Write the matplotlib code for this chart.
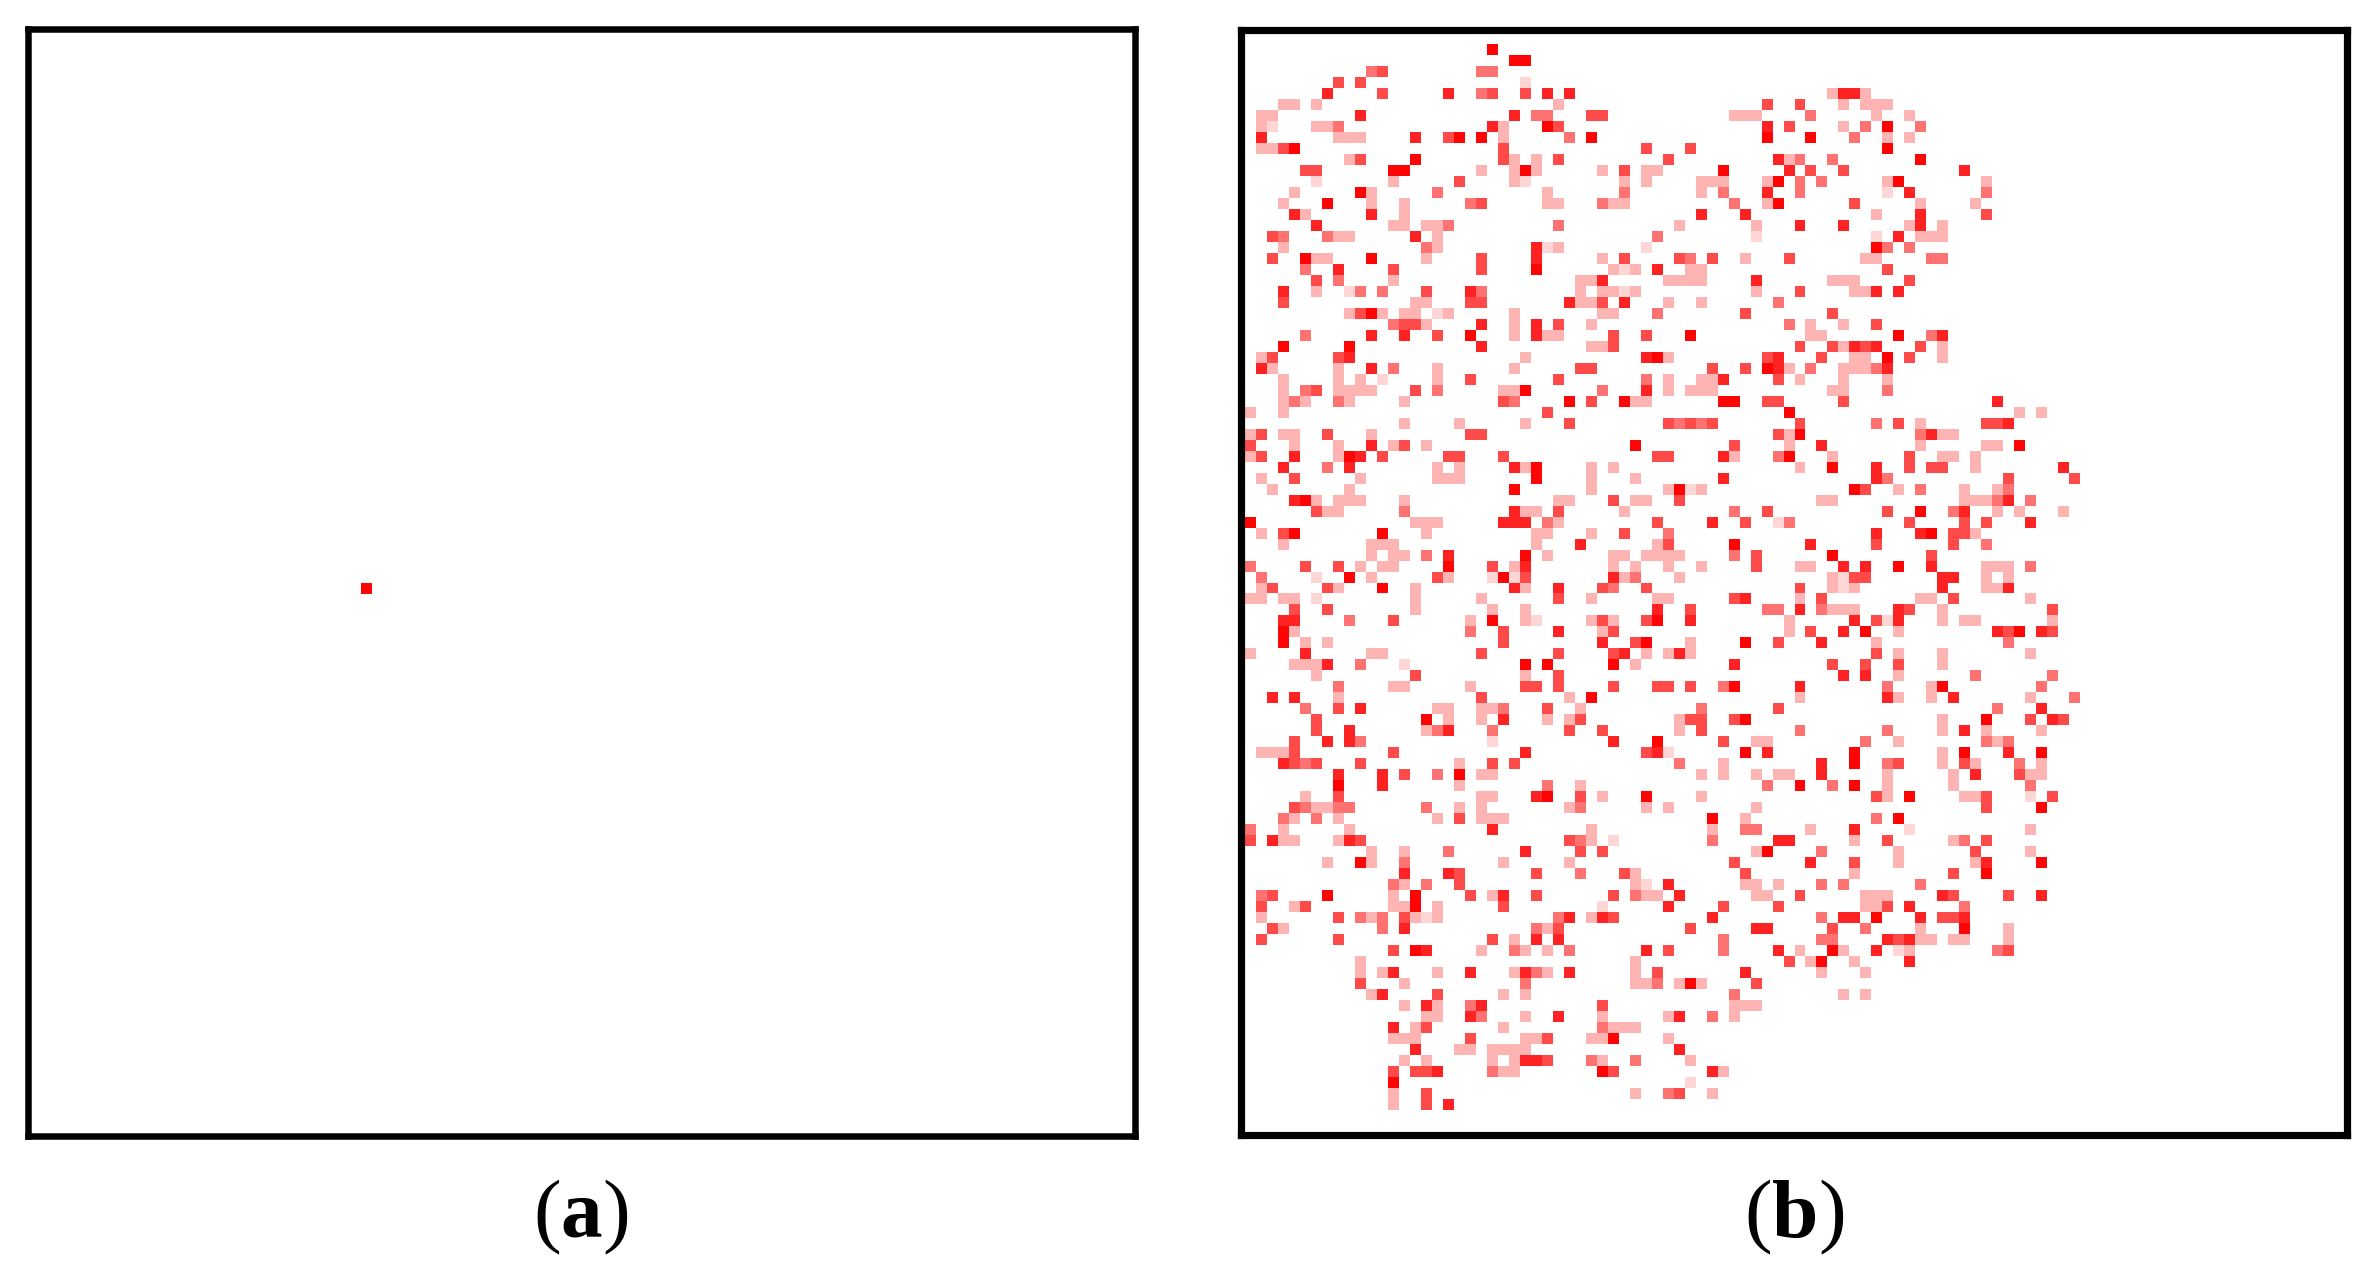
import matplotlib
matplotlib.use('Agg')
import matplotlib.pyplot as plt
from matplotlib.colors import ListedColormap
import numpy as np

# 100 x 100 grid, {row: [(col, level), ...]}, level 1 = palest, 6 = full red
GRID = 100
level_colors = ['#FFFFFF', '#FFD6D6', '#FFB4B4', '#FF7272', '#FF4A4A', '#FF2222', '#FF0404']

cells_a = {50: [(30, 6)]}

cells_top = {
    1: [(22,6)],
    2: [(24,6),(25,6)],
    3: [(11,3),(12,4),(21,3),(22,3)],
    4: [(8,4),(10,4),(25,1)],
    5: [(7,5),(12,4),(18,5),(21,3),(22,4),(25,4),(27,5),(29,5),(53,2),(54,5),(55,5),(56,2)],
    6: [(3,2),(4,2),(6,2),(28,2),(47,4),(50,4),(54,2),(56,2),(57,2),(58,2)],
    7: [(1,2),(2,2),(10,5),(24,5),(26,3),(27,3),(31,4),(32,4),(44,2),(45,2),(46,2),(51,3),(57,2),(60,2)],
    8: [(1,2),(2,1),(6,2),(7,2),(8,3),(22,5),(23,2),(27,6),(28,4),(47,5),(49,4),(54,2),(56,3),(58,6),(61,3)],
    9: [(1,5),(8,2),(9,2),(10,2),(15,5),(18,4),(19,6),(21,6),(23,2),(29,3),(31,6),(47,6),(51,6),(55,3),(58,2),(60,2)],
    10: [(1,2),(2,2),(3,4),(4,6),(23,4),(36,4),(40,4),(58,6)],
    11: [(9,2),(10,4),(15,6),(23,4),(24,2),(26,2),(28,4),(38,4),(48,5),(49,2),(50,3),(53,3),(61,6)],
    12: [(5,4),(6,4),(13,6),(14,6),(21,2),(24,2),(25,6),(26,2),(32,2),(34,4),(36,2),(37,2),(43,6),(49,5),(51,4),(54,4),(65,5)],
    13: [(6,1),(13,2),(19,4),(24,2),(25,1),(34,2),(36,2),(41,2),(42,2),(43,2),(47,2),(48,6),(50,3),(52,3),(58,2),(59,6),(67,2)],
    14: [(4,2),(10,6),(11,2),(17,3),(27,2),(34,3),(41,2),(43,3),(47,5),(50,3),(58,1),(60,5),(67,3)],
    15: [(3,2),(7,6),(11,2),(14,2),(20,3),(21,4),(27,2),(28,2),(32,3),(33,2),(34,2),(44,3),(47,2),(48,6),(55,4),(61,2),(66,2)],
    16: [(4,5),(5,2),(11,5),(14,2),(41,5),(45,5),(57,2),(61,5),(67,4)],
    17: [(6,5),(13,2),(14,2),(16,2),(17,2),(18,3),(28,3),(39,2),(46,2),(50,5),(54,5),(60,2),(61,5),(63,2)],
    18: [(2,4),(3,3),(7,3),(8,2),(9,2),(15,5),(17,2),(37,3),(46,1),(57,1),(59,5),(61,2),(62,2),(63,2)],
    19: [(3,2),(16,3),(17,2),(26,5),(27,1),(28,2),(36,1),(57,6),(58,3),(60,3)],
    20: [(2,4),(5,6),(6,2),(7,2),(11,6),(16,2),(21,4),(26,5),(32,2),(34,4),(39,4),(40,3),(42,4),(45,2),(49,4),(56,2),(57,2),(62,3),(63,3)],
    21: [(5,3),(8,5),(13,4),(21,4),(26,6),(33,2),(34,1),(35,2),(37,5),(40,2),(41,2),(58,4)],
    22: [(6,4),(8,3),(13,2),(30,2),(31,2),(32,5),(38,2),(39,2),(40,2),(41,2),(46,5),(53,2),(54,2),(55,2),(60,4)],
    23: [(3,5),(6,2),(9,1),(10,3),(12,3),(16,4),(20,5),(21,3),(30,2),(32,2),(33,2),(34,1),(35,2),(46,2),(50,4),(55,2),(56,2),(57,5),(59,5)],
    24: [(3,4),(15,2),(16,2),(20,4),(21,4),(29,5),(30,2),(31,2),(32,4),(34,5),(38,2),(41,2),(48,3)],
}

cells_upper = {
    25: [(9,2),(10,4),(11,6),(12,2),(14,2),(15,2),(17,1),(18,2),(24,2),(32,2),(33,2),(37,3),(45,4),(53,4)],
    26: [(13,3),(14,4),(15,4),(16,2),(21,5),(24,2),(26,5),(28,4),(31,2),(49,3),(51,2),(54,2),(57,4)],
    27: [(5,3),(11,5),(14,5),(17,4),(20,6),(24,2),(26,5),(27,2),(28,2),(33,4),(36,4),(40,6),(51,2),(52,2),(59,6),(62,3),(63,5)],
    28: [(3,6),(9,6),(21,5),(31,2),(32,2),(33,4),(50,4),(53,4),(54,2),(55,5),(56,4),(57,5),(61,4),(63,2)],
    29: [(1,2),(2,4),(8,4),(9,5),(25,2),(36,5),(37,6),(38,2),(47,4),(48,5),(52,4),(55,2),(56,2),(58,6),(60,4),(63,2)],
    30: [(1,5),(2,2),(8,2),(11,5),(13,3),(17,2),(24,2),(30,4),(31,4),(42,4),(45,4),(47,6),(48,5),(49,2),(51,3),(54,2),(55,2),(56,2),(57,3),(58,5)],
    31: [(3,2),(8,2),(10,2),(12,1),(17,2),(20,4),(28,4),(36,3),(38,2),(41,2),(42,2),(43,5),(48,4),(50,2),(54,2),(58,2)],
    32: [(3,2),(5,3),(6,4),(8,2),(9,2),(10,2),(11,2),(15,4),(17,3),(23,2),(24,2),(25,6),(32,3),(36,5),(38,2),(40,2),(41,2),(42,2),(53,2),(54,2),(58,3)],
    33: [(3,2),(4,3),(5,2),(8,3),(9,2),(14,2),(23,4),(24,3),(29,6),(31,4),(34,6),(35,2),(36,2),(43,6),(44,6),(47,4),(48,4),(54,4),(68,5)],
    34: [(0,2),(3,2),(27,4),(49,6),(70,2),(72,2)],
    35: [(14,2),(19,2),(25,2),(29,4),(38,4),(39,3),(40,4),(41,3),(42,4),(50,4),(57,3),(59,4),(61,2),(67,4),(68,4),(69,5)],
    36: [(0,2),(1,4),(3,2),(4,2),(7,4),(11,2),(20,4),(21,4),(48,4),(49,2),(50,6),(61,3),(62,5),(63,2),(64,2)],
    37: [(0,4),(4,2),(8,2),(11,5),(13,2),(14,4),(16,2),(35,6),(44,4),(49,2),(52,5),(61,2),(67,2),(68,2),(70,6)],
    38: [(0,2),(1,4),(4,5),(8,2),(9,6),(10,5),(12,4),(18,4),(19,4),(23,4),(37,4),(38,4),(43,5),(44,2),(48,3),(49,6),(53,2),(60,4),(63,2),(64,2),(66,2)],
    39: [(3,5),(7,3),(9,5),(17,2),(19,2),(24,5),(25,2),(26,6),(31,2),(33,2),(50,2),(53,6),(57,5),(60,4),(62,4),(63,4),(66,2),(74,5)],
    40: [(1,2),(4,4),(10,2),(17,2),(18,2),(19,2),(26,6),(31,2),(35,2),(43,5),(57,5),(58,3),(69,4),(75,4)],
    41: [(2,2),(9,2),(24,6),(31,2),(38,2),(39,6),(40,1),(41,2),(55,6),(56,4),(59,2),(61,3),(65,2),(68,2),(69,3)],
    42: [(4,5),(5,6),(6,2),(8,2),(9,2),(10,2),(14,2),(28,2),(29,2),(33,4),(35,2),(36,2),(39,4),(52,2),(53,2),(65,2),(66,2),(67,2),(68,3),(69,5),(71,3)],
    43: [(6,4),(7,2),(8,2),(14,3),(24,5),(25,2),(26,2),(28,4),(34,2),(44,3),(47,4),(58,4),(61,6),(64,3),(65,5),(68,2),(70,2),(74,2)],
    44: [(0,6),(15,2),(16,2),(17,2),(23,5),(24,5),(25,5),(27,3),(28,2),(37,4),(42,5),(45,4),(48,1),(49,3),(60,4),(65,4),(67,4),(71,5)],
    45: [(1,2),(3,4),(4,6),(12,6),(16,2),(26,2),(27,2),(31,2),(34,4),(38,3),(57,5),(61,5),(62,6),(64,4),(65,4),(66,2)],
    46: [(3,2),(11,2),(12,2),(13,2),(26,2),(30,5),(37,2),(38,4),(44,6),(51,5),(57,4),(64,4),(67,3)],
    47: [(11,2),(13,2),(14,2),(16,3),(18,5),(25,6),(27,2),(33,2),(34,2),(36,2),(37,2),(38,2),(39,2),(44,3),(46,4),(53,6),(62,4)],
    48: [(0,3),(5,4),(8,4),(10,2),(12,2),(13,2),(18,6),(22,4),(24,2),(25,5),(33,2),(35,2),(38,2),(41,2),(46,4),(50,2),(51,2),(54,5),(56,5),(59,6),(62,5),(67,2),(68,2),(69,2),(71,3)],
    49: [(1,3),(6,1),(9,6),(11,2),(17,4),(18,2),(22,1),(23,6),(24,1),(25,4),(33,5),(34,2),(35,3),(39,2),(53,2),(54,1),(55,4),(56,4),(63,5),(64,5),(67,2),(69,2)],
}

cells_lower = {
    50: [(1,2),(2,4),(7,4),(8,2),(12,6),(15,2),(24,5),(25,2),(28,5),(32,4),(33,3),(36,4),(50,4),(53,2),(54,1),(55,2),(63,5),(67,2),(68,2),(69,5)],
    51: [(0,2),(1,2),(3,2),(4,2),(6,1),(15,2),(21,2),(28,4),(31,2),(37,2),(38,2),(44,4),(45,5),(50,2),(52,4),(61,2),(62,2),(64,4),(71,2)],
    52: [(4,4),(7,4),(15,2),(22,2),(25,2),(37,5),(40,4),(47,3),(48,3),(50,5),(52,3),(53,2),(54,2),(55,2),(59,5),(60,4),(63,2),(73,4)],
    53: [(3,5),(4,5),(9,3),(13,4),(20,2),(22,6),(25,2),(26,1),(31,2),(32,4),(33,2),(36,4),(37,6),(40,5),(49,2),(55,5),(57,4),(58,1),(59,5),(63,2),(65,2),(66,2),(73,2)],
    54: [(3,6),(4,2),(20,3),(23,4),(28,5),(32,2),(33,4),(49,2),(51,4),(54,5),(56,6),(59,2),(68,5),(69,4),(70,6),(72,5),(73,4)],
    55: [(3,6),(5,2),(7,2),(23,4),(32,5),(35,4),(36,6),(40,2),(45,6),(48,4),(52,5),(57,2),(69,3)],
    56: [(0,2),(5,5),(11,2),(12,2),(21,4),(28,4),(33,4),(34,5),(36,2),(38,2),(39,5),(40,2),(57,4),(59,2),(63,2),(71,2)],
    57: [(4,2),(5,2),(6,2),(7,5),(10,3),(14,1),(25,6),(27,6),(33,6),(35,2),(44,5),(53,4),(56,4),(59,4),(63,2)],
    58: [(6,2),(15,4),(25,2),(28,4),(54,5),(56,5),(59,2),(66,3),(73,3)],
    59: [(8,3),(13,2),(14,2),(20,2),(25,4),(26,4),(28,4),(33,4),(37,4),(38,4),(40,4),(43,3),(44,6),(50,5),(58,3),(62,2),(63,6),(72,3)],
    60: [(2,5),(4,5),(8,2),(21,4),(29,2),(31,6),(50,2),(58,5),(59,2),(62,2),(64,5),(71,2),(75,3)],
    61: [(5,3),(8,4),(10,5),(17,2),(18,2),(21,2),(22,2),(23,3),(27,4),(30,2),(41,3),(48,4),(68,3),(72,5)],
    62: [(6,4),(16,6),(18,2),(21,2),(23,5),(27,2),(29,2),(30,4),(39,2),(40,4),(41,4),(44,4),(45,6),(63,2),(67,6),(71,4),(73,5),(74,4)],
    63: [(6,4),(9,5),(16,2),(17,3),(18,5),(22,3),(29,4),(32,4),(39,2),(41,4),(50,3),(58,3),(63,2),(65,5),(67,2),(72,2)],
    64: [(4,4),(7,5),(9,5),(10,3),(22,1),(33,5),(37,6),(43,4),(46,2),(47,2),(56,3),(59,2),(67,3),(68,2),(69,3)],
    65: [(1,2),(2,2),(3,2),(4,4),(13,4),(25,5),(36,4),(37,5),(38,1),(45,6),(47,5),(55,6),(63,2),(65,6),(69,5),(72,6)],
    66: [(3,5),(4,4),(5,3),(6,4),(10,4),(19,2),(22,4),(24,4),(39,3),(43,2),(52,5),(55,6),(58,3),(59,4),(63,2),(65,4),(66,2),(70,3),(72,2)],
    67: [(8,5),(12,5),(14,4),(17,3),(19,6),(21,2),(22,2),(41,2),(43,2),(46,2),(48,2),(49,2),(52,5),(58,2),(64,2),(66,5),(70,4),(71,2),(72,2)],
    68: [(8,6),(12,5),(19,2),(27,3),(30,2),(47,3),(50,6),(53,3),(55,6),(58,2),(64,2),(71,3)],
    69: [(5,2),(8,4),(21,2),(22,2),(26,5),(27,6),(30,4),(32,2),(36,6),(41,2),(57,4),(58,2),(60,6),(65,2),(66,2),(67,4),(71,1),(73,4)],
    70: [(4,4),(5,3),(6,2),(7,2),(8,3),(9,3),(16,3),(19,2),(21,2),(29,2),(30,3),(36,2),(38,2),(46,2),(67,4),(72,6)],
    71: [(3,3),(4,2),(6,3),(8,2),(17,2),(19,4),(21,2),(22,2),(23,2),(42,6),(45,2),(57,3),(59,6)],
    72: [(0,3),(3,2),(9,2),(22,5),(31,2),(42,2),(45,3),(46,3),(51,2),(55,5),(60,1),(71,2)],
    73: [(0,4),(2,5),(3,2),(4,2),(8,2),(9,5),(10,4),(29,4),(30,3),(31,2),(33,1),(42,3),(48,5),(49,5),(55,2),(58,4),(64,2),(65,3),(67,4)],
    74: [(11,2),(14,2),(18,3),(25,5),(30,4),(32,4),(46,2),(47,6),(52,3),(59,2),(66,4),(71,2)],
}

cells_bottom = {
    75: [(7,2),(10,6),(11,2),(14,3),(23,2),(29,2),(44,4),(51,5),(55,4),(59,2),(66,2),(67,5),(72,6)],
    76: [(14,5),(18,5),(19,4),(26,4),(30,3),(34,4),(35,2),(45,4),(55,2),(64,4),(67,6)],
    77: [(13,3),(14,2),(16,3),(19,4),(35,2),(36,1),(38,5),(45,2),(46,2),(48,2),(52,3),(54,3),(61,3)],
    78: [(1,3),(2,4),(7,6),(13,2),(15,6),(20,4),(22,2),(23,5),(26,4),(33,4),(35,3),(36,2),(37,2),(39,5),(46,2),(47,2),(50,4),(56,2),(57,2),(58,2),(63,5),(64,4),(69,4),(72,5)],
    79: [(1,4),(4,2),(5,4),(13,2),(14,2),(15,6),(17,2),(23,4),(32,1),(38,5),(43,4),(48,4),(56,2),(57,2),(58,4),(60,5),(65,3)],
    80: [(1,2),(8,4),(10,3),(11,2),(12,3),(14,4),(15,2),(16,1),(17,2),(28,3),(29,5),(31,2),(32,5),(33,4),(42,5),(52,3),(54,5),(55,5),(57,6),(61,5),(63,4),(64,4),(65,5)],
    81: [(2,4),(3,2),(12,3),(14,5),(26,3),(27,2),(28,4),(40,4),(46,5),(47,5),(53,4),(56,3),(61,2),(65,6),(69,2)],
    82: [(1,4),(8,4),(22,4),(24,2),(26,5),(28,5),(43,3),(52,3),(53,3),(58,5),(59,4),(60,5),(61,2),(62,2),(64,2),(65,2),(69,2)],
    83: [(13,4),(15,6),(16,5),(21,2),(24,3),(25,2),(27,2),(29,3),(36,5),(38,4),(43,3),(48,5),(50,2),(53,6),(54,2),(57,5),(59,1),(60,2),(68,3),(69,4)],
    84: [(10,2),(35,2),(49,4),(51,2),(52,6),(55,2),(60,5)],
    85: [(10,2),(12,2),(13,5),(17,2),(20,5),(24,2),(25,5),(26,3),(27,2),(29,5),(35,2),(37,4),(45,5),(52,2),(56,2)],
    86: [(10,4),(14,2),(25,3),(35,2),(36,2),(37,3),(39,2),(40,6),(41,2),(46,4)],
    87: [(11,2),(12,5),(17,4),(23,2),(25,2),(44,3),(54,2),(56,2)],
    88: [(14,2),(16,5),(17,2),(20,3),(21,5),(32,4),(44,2),(45,2),(46,2)],
    89: [(16,2),(17,2),(20,5),(21,3),(25,2),(28,5),(32,2),(38,2),(39,5),(42,3),(44,2)],
    90: [(13,5),(15,2),(16,4),(23,2),(32,3),(33,2),(34,2),(35,2)],
    91: [(13,2),(14,2),(15,2),(20,4),(25,2),(26,2),(27,4),(31,2),(32,2),(33,6),(38,2)],
    92: [(15,5),(19,2),(20,2),(22,2),(23,2),(24,2),(25,2),(39,5)],
    93: [(14,2),(16,2),(22,2),(24,2),(25,5),(26,5),(27,4),(31,3),(32,2),(35,3),(40,2)],
    94: [(13,4),(15,4),(16,4),(17,5),(22,3),(23,2),(24,2),(32,6),(33,4),(42,5),(43,2)],
    95: [(13,6),(40,1)],
    96: [(13,2),(16,4),(35,2),(38,3),(39,4),(42,2)],
    97: [(13,2),(16,4),(18,5)],
}

panel_labels = ['a', 'b']


def to_matrix(*blocks):
    mat = np.zeros((GRID, GRID))
    for block in blocks:
        for row, items in block.items():
            for col, level in items:
                mat[row, col] = level
    return mat


W, H = 2369, 1272
plt.rcParams['font.family'] = ['Liberation Serif']
plt.rcParams['mathtext.fontset'] = 'custom'
plt.rcParams['mathtext.bf'] = 'Liberation Serif:bold'
plt.rcParams['mathtext.rm'] = 'Liberation Serif'

fig = plt.figure(figsize=(W / 100, H / 100), dpi=100)
cmap = ListedColormap(level_colors)


# frame = outer edges of the black border in pixels, inner = edges of the cell area
def draw_panel(frame, inner, lw_px, mat):
    left, top, right, bottom = frame
    il, it, ir, ib = inner
    m = lw_px / 2
    x0, x1 = left + m, right - m
    y0, y1 = top + m, bottom - m
    ax = fig.add_axes([x0 / W, 1 - y1 / H, (x1 - x0) / W, (y1 - y0) / H])
    cw = (ir - il) / GRID
    ch = (ib - it) / GRID
    ax.pcolormesh(np.arange(GRID + 1), np.arange(GRID + 1), mat, cmap=cmap, vmin=-0.5, vmax=6.5)
    ax.set_xlim((x0 - il) / cw, (x1 - il) / cw)
    ax.set_ylim((y1 - it) / ch, (y0 - it) / ch)
    ax.set_xticks([])
    ax.set_yticks([])
    for s in ax.spines.values():
        s.set_linewidth(lw_px * 72 / 100)
        s.set_color('black')
    return ax


draw_panel((24.5, 26, 1138, 1139), (31, 32, 1132, 1133), 6.5, to_matrix(cells_a))
draw_panel((1237, 26, 2351, 1139), (1245, 33.3, 2344, 1131.7), 7.2,
           to_matrix(cells_top, cells_upper, cells_lower, cells_bottom))

for name, cx in zip(panel_labels, [581, 1794]):
    fig.text(cx / W, 1 - 1217 / H, '($\\mathbf{%s}$)' % name, fontsize=60,
             ha='center', va='center', color='black')

fig.savefig('out.png', dpi=100)
